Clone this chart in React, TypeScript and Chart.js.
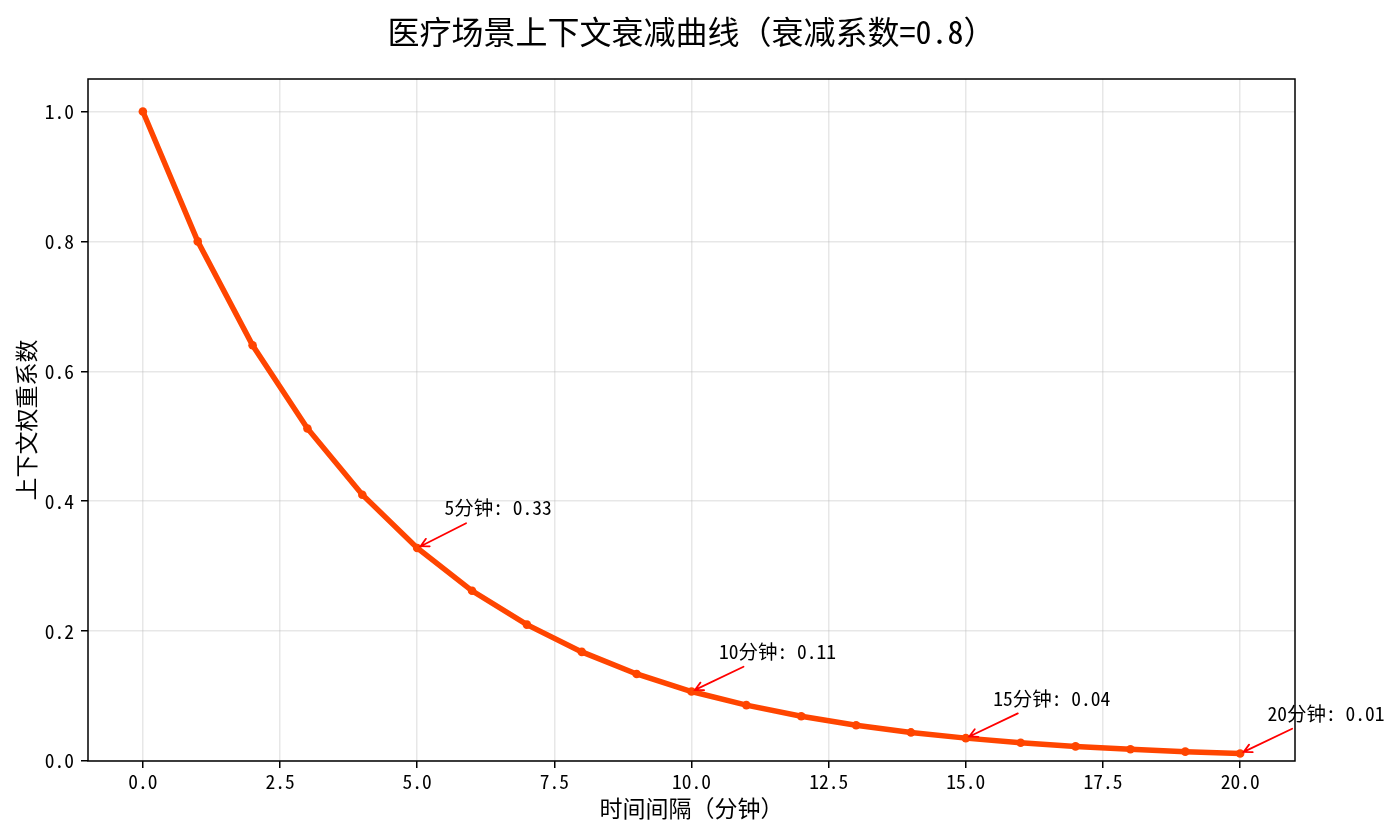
import React, { useEffect, useRef } from "react";
import { Chart, registerables } from "chart.js";

Chart.register(...registerables);

// Elapsed time in minutes and the matching context weight (decay factor 0.8 per minute)
const minutes = [0, 1, 2, 3, 4, 5, 6, 7, 8, 9, 10, 11, 12, 13, 14, 15, 16, 17, 18, 19, 20];
const weights = [
  1.0, 0.8, 0.64, 0.512, 0.41, 0.328, 0.262, 0.21, 0.168, 0.134, 0.107, 0.086, 0.069, 0.055,
  0.044, 0.0352, 0.028, 0.0225, 0.018, 0.0144, 0.0115,
];

// Minutes that get a callout label
const calloutMinutes = [5, 10, 15, 20];

// Tick values on both axes
const xTicks = [0, 2.5, 5, 7.5, 10, 12.5, 15, 17.5, 20];
const yTicks = [0, 0.2, 0.4, 0.6, 0.8, 1.0];

const TITLE = "医疗场景上下文衰减曲线（衰减系数=0.8）";
const X_LABEL = "时间间隔（分钟）";
const Y_LABEL = "上下文权重系数";

const FONT = "'Noto Sans Mono CJK SC', 'Noto Sans CJK SC', 'DejaVu Sans', sans-serif";
const LINE_COLOR = "#FF4500";
const ARROW_COLOR = "#FF0000";

// Callout text offset from its point, in data units
const CALLOUT_DX = 0.5;
const CALLOUT_DY = 0.05;

const W = 1400;
const H = 835;

const decorations = {
  id: "decorations",
  afterDatasetsDraw(chart: any) {
    const { ctx, chartArea } = chart;
    ctx.save();
    ctx.strokeStyle = "#000";
    ctx.lineWidth = 1.5;
    ctx.strokeRect(
      chartArea.left,
      chartArea.top,
      chartArea.right - chartArea.left,
      chartArea.bottom - chartArea.top
    );
    ctx.restore();
  },
  afterDraw(chart: any) {
    const { ctx, chartArea, scales } = chart;
    const xs = scales.x;
    const ys = scales.y;
    const cx = (chartArea.left + chartArea.right) / 2;
    const cy = (chartArea.top + chartArea.bottom) / 2;

    ctx.save();
    ctx.fillStyle = "#000";
    ctx.textAlign = "center";
    ctx.textBaseline = "middle";

    ctx.font = `32px ${FONT}`;
    ctx.fillText(TITLE, cx, 32);

    ctx.font = `23px ${FONT}`;
    ctx.fillText(X_LABEL, cx, 808);

    ctx.save();
    ctx.translate(26, cy);
    ctx.rotate(-Math.PI / 2);
    ctx.fillText(Y_LABEL, 0, 0);
    ctx.restore();

    // Callouts with arrows pointing at their points
    ctx.font = `19.5px ${FONT}`;
    ctx.textAlign = "left";
    ctx.textBaseline = "alphabetic";
    calloutMinutes.forEach((m) => {
      const i = minutes.indexOf(m);
      const v = weights[i];
      const label = `${m}分钟: ${v.toFixed(2)}`;
      const px = xs.getPixelForValue(m);
      const py = ys.getPixelForValue(v);
      const tx = xs.getPixelForValue(m + CALLOUT_DX);
      const ty = ys.getPixelForValue(v + CALLOUT_DY);
      const met = ctx.measureText(label);
      const asc = met.fontBoundingBoxAscent ?? 19 * 0.88;
      const desc = met.fontBoundingBoxDescent ?? 19 * 0.12;
      const x0 = tx;
      const x1 = tx + met.width;
      const y0 = ty - asc;
      const y1 = ty + desc;
      ctx.fillStyle = "#000";
      ctx.fillText(label, tx, ty);

      const bx = (x0 + x1) / 2;
      const by = (y0 + y1) / 2;
      const dx = px - bx;
      const dy = py - by;
      const tX = dx !== 0 ? Math.abs(((dx > 0 ? x1 : x0) - bx) / dx) : Infinity;
      const tY = dy !== 0 ? Math.abs(((dy > 0 ? y1 : y0) - by) / dy) : Infinity;
      const t = Math.min(tX, tY);
      const len = Math.hypot(dx, dy);
      const ux = dx / len;
      const uy = dy / len;
      const shrink = 3.9;
      const sx = bx + dx * t + ux * shrink;
      const sy = by + dy * t + uy * shrink;
      const ex = px - ux * shrink;
      const ey = py - uy * shrink;

      ctx.strokeStyle = ARROW_COLOR;
      ctx.lineWidth = 1.8;
      ctx.lineCap = "round";
      ctx.beginPath();
      ctx.moveTo(sx, sy);
      ctx.lineTo(ex, ey);
      const hl = 8;
      const hw = 4.2;
      const nx = -uy;
      const ny = ux;
      ctx.moveTo(ex - ux * hl + nx * hw, ey - uy * hl + ny * hw);
      ctx.lineTo(ex, ey);
      ctx.lineTo(ex - ux * hl - nx * hw, ey - uy * hl - ny * hw);
      ctx.stroke();
    });
    ctx.restore();
  },
};

export default function App() {
  const canvasRef = useRef<HTMLCanvasElement | null>(null);

  useEffect(() => {
    const canvas = canvasRef.current;
    if (!canvas) return;
    const points = minutes.map((m, i) => ({ x: m, y: weights[i] }));

    const chart = new Chart(canvas, {
      type: "line",
      data: {
        datasets: [
          {
            data: points,
            borderColor: LINE_COLOR,
            backgroundColor: LINE_COLOR,
            borderWidth: 5.5,
            pointRadius: 4.3,
            pointBorderWidth: 0,
            pointBackgroundColor: LINE_COLOR,
            tension: 0,
          },
        ],
      },
      options: {
        responsive: false,
        animation: false,
        devicePixelRatio: 1,
        layout: { padding: { top: 79, right: 105, left: 0, bottom: 0 } },
        plugins: {
          legend: { display: false },
          title: { display: false },
          tooltip: { enabled: false },
        },
        scales: {
          x: {
            type: "linear",
            min: -1,
            max: 21,
            afterBuildTicks: (scale: any) => {
              scale.ticks = xTicks.map((v) => ({ value: v }));
            },
            afterFit: (scale: any) => {
              scale.height = 74;
            },
            border: { display: false },
            grid: {
              color: "rgba(176,176,176,0.3)",
              lineWidth: 1.5,
              tickColor: "#000",
              tickWidth: 1.5,
              tickLength: 7,
            },
            ticks: {
              padding: 2,
              color: "#000",
              font: { family: FONT, size: 19.5 },
              maxRotation: 0,
              autoSkip: false,
              callback: (v: any) => Number(v).toFixed(1),
            },
          },
          y: {
            type: "linear",
            min: 0,
            max: 1.05,
            afterBuildTicks: (scale: any) => {
              scale.ticks = yTicks.map((v) => ({ value: v }));
            },
            afterFit: (scale: any) => {
              scale.width = 88;
            },
            border: { display: false },
            grid: {
              color: "rgba(176,176,176,0.3)",
              lineWidth: 1.5,
              tickColor: "#000",
              tickWidth: 1.5,
              tickLength: 7,
            },
            ticks: {
              padding: 7,
              color: "#000",
              font: { family: FONT, size: 19.5 },
              autoSkip: false,
              callback: (v: any) => Number(v).toFixed(1),
            },
          },
        },
      },
      plugins: [decorations],
    });

    return () => {
      chart.destroy();
    };
  }, []);

  return (
    <div style={{ position: "absolute", left: 0, top: 0, width: W, height: H, background: "#fff" }}>
      <canvas ref={canvasRef} width={W} height={H} style={{ display: "block" }} />
    </div>
  );
}
